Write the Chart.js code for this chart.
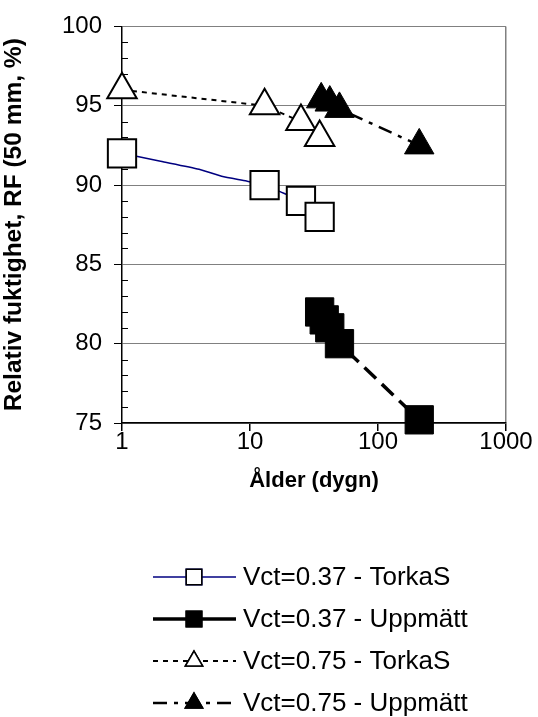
<!DOCTYPE html>
<html>
<head>
<meta charset="utf-8">
<script src="https://cdn.jsdelivr.net/npm/chart.js@4.4.0/dist/chart.umd.min.js"></script>
<style>
  html, body { margin: 0; padding: 0; background: #fff; }
  #wrap { width: 538px; height: 717px; position: relative; }
</style>
</head>
<body>
<div id="wrap"><canvas id="rf"></canvas></div>
<script>
// Ålder (dygn) och relativ fuktighet (%)
var torka37Age = [1, 2, 4, 6, 9.4, 13, 17, 25, 30, 35];
var torka37RF = [92, 91.5, 91, 90.55, 90.25, 90, 89.6, 89, 88.5, 88];
var torka37Marker = [1, 0, 0, 0, 0, 1, 0, 1, 0, 1];

var matt37Age = [35, 38, 42, 50, 210];
var matt37RF = [82, 81.5, 81, 80, 75.2];

var torka75Age = [1, 13, 25, 35];
var torka75RF = [96, 95, 94, 93];

var matt75Age = [36, 42, 50, 210];
var matt75RF = [95.4, 95.2, 94.8, 92.5];

var seriesNames = ['Vct=0.37 - TorkaS', 'Vct=0.37 - Uppmätt', 'Vct=0.75 - TorkaS', 'Vct=0.75 - Uppmätt'];
var xTicks = [1, 10, 100, 1000];
var yMin = 75, yMax = 100, yStep = 5;

var FONT = "'Liberation Sans', Arial, sans-serif";

function pts(xs, ys) {
  return xs.map(function (x, i) { return { x: x, y: ys[i] }; });
}

// små skalstreck innanför y-axeln
var minorTicks = {
  id: 'minorTicks',
  beforeDatasetsDraw: function (chart) {
    var c = chart.ctx, y = chart.scales.y, a = chart.chartArea;
    c.save();
    c.strokeStyle = '#000';
    c.lineWidth = 1;
    for (var v = yMin + 1; v < yMax; v++) {
      if (v % yStep === 0) continue;
      var py = Math.round(y.getPixelForValue(v)) + 0.5;
      c.beginPath();
      c.moveTo(a.left, py);
      c.lineTo(a.left + 6, py);
      c.stroke();
    }
    c.restore();
  }
};

// egen förklaring under diagrammet
var bottomLegend = {
  id: 'bottomLegend',
  afterDraw: function (chart) {
    var c = chart.ctx;
    var y0 = 577, gap = 42;
    chart.data.datasets.forEach(function (ds, i) {
      var y = y0 + i * gap;
      c.save();
      c.strokeStyle = ds.borderColor;
      c.lineWidth = ds.borderWidth;
      c.setLineDash(ds.legendDash || []);
      c.beginPath();
      c.moveTo(153, y);
      c.lineTo(236, y);
      c.stroke();
      c.setLineDash([]);
      var r = ds.pointStyle === 'rect' ? 11 : 10;
      c.lineWidth = 1.5;
      Chart.helpers.drawPoint(c, {
        pointStyle: ds.pointStyle,
        radius: r,
        borderWidth: 1.5
      }, 194, y);
      c.fillStyle = ds.pointBackgroundColor;
      c.strokeStyle = '#000';
      c.fill();
      c.stroke();
      c.restore();
      c.save();
      c.fillStyle = '#000';
      c.font = '26px ' + FONT;
      c.textAlign = 'left';
      c.textBaseline = 'middle';
      c.fillText(ds.label, 243, y + 1);
      c.restore();
    });
  }
};

new Chart(document.getElementById('rf'), {
  type: 'line',
  data: {
    datasets: [
      {
        label: seriesNames[0],
        data: pts(torka37Age, torka37RF),
        borderColor: '#000080',
        borderWidth: 1.5,
        pointStyle: 'rect',
        pointRadius: function (ctx) { return torka37Marker[ctx.dataIndex] ? 20 : 0; },
        pointHoverRadius: 0,
        pointBackgroundColor: '#fff',
        pointBorderColor: '#000',
        pointBorderWidth: 2,
        tension: 0.2
      },
      {
        label: seriesNames[1],
        data: pts(matt37Age, matt37RF),
        borderColor: '#000',
        borderWidth: 3.5,
        borderDash: [16, 8],
        legendDash: [],
        pointStyle: 'rect',
        pointRadius: 20,
        pointBackgroundColor: '#000',
        pointBorderColor: '#000',
        pointBorderWidth: 1
      },
      {
        label: seriesNames[2],
        data: pts(torka75Age, torka75RF),
        borderColor: '#000',
        borderWidth: 2,
        borderDash: [5, 5],
        legendDash: [5, 5],
        pointStyle: 'triangle',
        pointRadius: 17,
        pointBackgroundColor: '#fff',
        pointBorderColor: '#000',
        pointBorderWidth: 2
      },
      {
        label: seriesNames[3],
        data: pts(matt75Age, matt75RF),
        borderColor: '#000',
        borderWidth: 2.5,
        borderDash: [14, 7, 4, 7],
        legendDash: [14, 7, 4, 7],
        pointStyle: 'triangle',
        pointRadius: 17,
        pointBackgroundColor: '#000',
        pointBorderColor: '#000',
        pointBorderWidth: 1
      }
    ]
  },
  options: {
    responsive: true,
    maintainAspectRatio: false,
    animation: false,
    clip: false,
    events: [],
    layout: { padding: { left: 0, right: 32, top: 19, bottom: 214 } },
    plugins: {
      legend: { display: false },
      tooltip: { enabled: false }
    },
    scales: {
      x: {
        type: 'logarithmic',
        min: 1,
        max: 1000,
        afterBuildTicks: function (s) {
          s.ticks = xTicks.map(function (v) { return { value: v }; });
        },
        afterFit: function (s) { s.height = 80; },
        border: { color: '#000', width: 1.5 },
        grid: {
          color: function (ctx) { return ctx.tick && ctx.tick.value === 1000 ? '#808080' : 'rgba(0,0,0,0)'; },
          lineWidth: 1.5,
          tickColor: '#000',
          tickLength: 8,
          drawTicks: true
        },
        ticks: {
          color: '#000',
          font: { family: FONT, size: 24 },
          padding: -3,
          maxRotation: 0,
          callback: function (v) { return String(v); }
        },
        title: {
          display: true,
          text: 'Ålder (dygn)',
          color: '#000',
          font: { family: FONT, size: 22, weight: 'bold' },
          padding: { top: 0, bottom: 9 }
        }
      },
      y: {
        min: yMin,
        max: yMax,
        afterFit: function (s) { s.width = 122; },
        border: { color: '#000', width: 1.5 },
        grid: {
          color: '#808080',
          lineWidth: 1,
          tickColor: '#000',
          tickLength: 8
        },
        ticks: {
          stepSize: yStep,
          color: '#000',
          font: { family: FONT, size: 24 },
          padding: 12
        },
        title: {
          display: true,
          text: 'Relativ fuktighet, RF (50 mm, %)',
          color: '#000',
          font: { family: FONT, size: 24.5, weight: 'bold' },
          padding: 0
        }
      }
    }
  },
  plugins: [minorTicks, bottomLegend]
});
</script>
</body>
</html>
